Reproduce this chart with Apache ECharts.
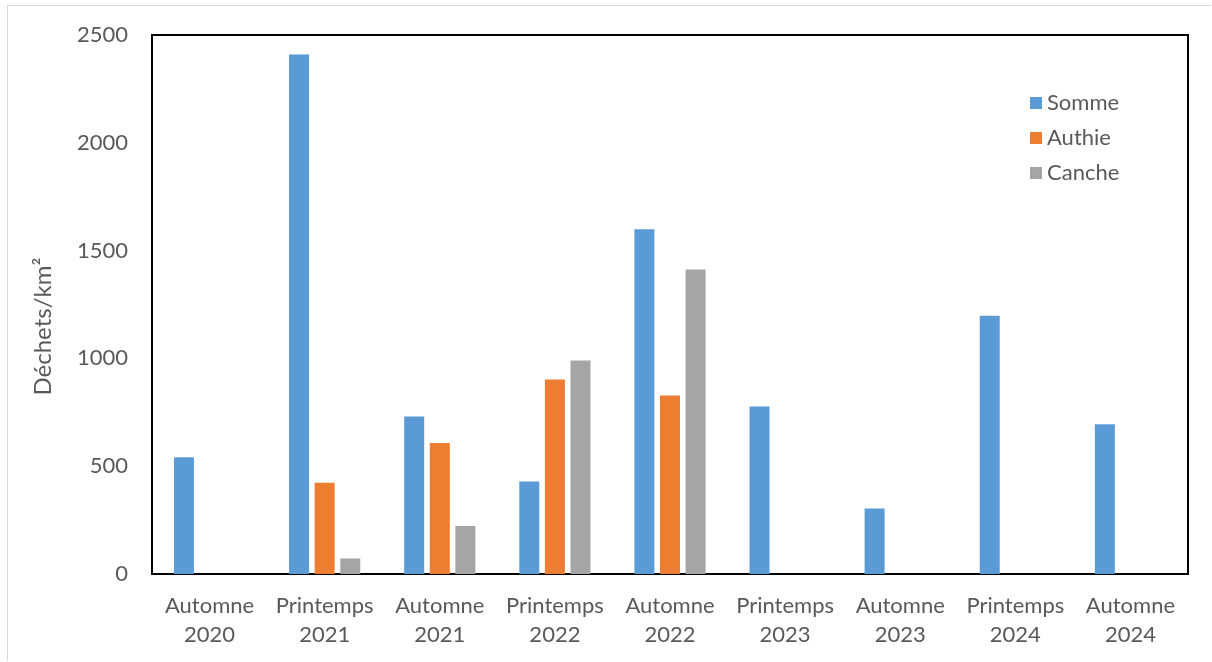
<!DOCTYPE html>
<html>
<head>
<meta charset="utf-8">
<title>Déchets/km²</title>
<script src="https://cdn.jsdelivr.net/npm/echarts@6/dist/echarts.min.js"></script>
<style>
  html, body { margin: 0; padding: 0; background: #fff; }
  #frame { position: absolute; left: 7px; top: 5px; width: 1204px; height: 656px; border: 1px solid #d9d9d9; border-right: none; border-bottom: none; box-sizing: border-box; }
  #chart { width: 1212px; height: 662px; }
</style>
</head>
<body>
<div id="frame"></div>
<div id="chart"></div>
<script>
const saisons = ['Automne\n2020', 'Printemps\n2021', 'Automne\n2021', 'Printemps\n2022', 'Automne\n2022',
                 'Printemps\n2023', 'Automne\n2023', 'Printemps\n2024', 'Automne\n2024'];
// valeurs (déchets/km²)
const somme  = [542, 2410, 730, 429, 1599, 777, 304, 1198, 695];
const authie = [null, 423, 608, 902, 828, null, null, null, null];
const canche = [null, 72, 223, 990, 1412, null, null, null, null];
const yTicks = [0, 500, 1000, 1500, 2000, 2500];

const font = 'Lato, "Open Sans", sans-serif';
const myChart = echarts.init(document.getElementById('chart'));

const option = {
  animation: false,
  textStyle: { fontFamily: font },
  grid: {
    left: 152, right: 24, top: 35, bottom: 88,
    show: true, borderColor: '#000', borderWidth: 2
  },
  legend: {
    orient: 'vertical',
    left: 1025, top: 87,
    itemWidth: 12, itemHeight: 12, itemGap: 13,
    icon: 'rect',
    textStyle: { fontSize: 22, color: '#595959', fontFamily: font },
    data: ['Somme', 'Authie', 'Canche']
  },
  xAxis: {
    type: 'category',
    data: saisons,
    axisLine: { lineStyle: { color: '#000', width: 2 } },
    axisTick: { show: false },
    axisLabel: { fontSize: 22, color: '#595959', margin: 17, lineHeight: 29, interval: 0 }
  },
  yAxis: {
    type: 'value',
    min: yTicks[0], max: yTicks[yTicks.length - 1], interval: 500,
    name: 'Déchets/km²',
    nameLocation: 'middle',
    nameGap: 97,
    nameTextStyle: { fontSize: 24, color: '#595959', padding: [0, 44, 0, 0] },
    axisLine: { show: true, lineStyle: { color: '#000', width: 2 } },
    axisTick: { show: false },
    splitLine: { show: false },
    axisLabel: { fontSize: 22, color: '#595959', margin: 24, formatter: v => String(v) }
  },
  series: [
    { name: 'Somme', type: 'bar', data: somme, barWidth: 20, barGap: '28%', itemStyle: { color: '#5B9BD5' } },
    { name: 'Authie', type: 'bar', data: authie, barWidth: 20, barGap: '28%', itemStyle: { color: '#ED7D31' } },
    { name: 'Canche', type: 'bar', data: canche, barWidth: 20, barGap: '28%', itemStyle: { color: '#A5A5A5' } }
  ]
};
myChart.setOption(option);
</script>
</body>
</html>
